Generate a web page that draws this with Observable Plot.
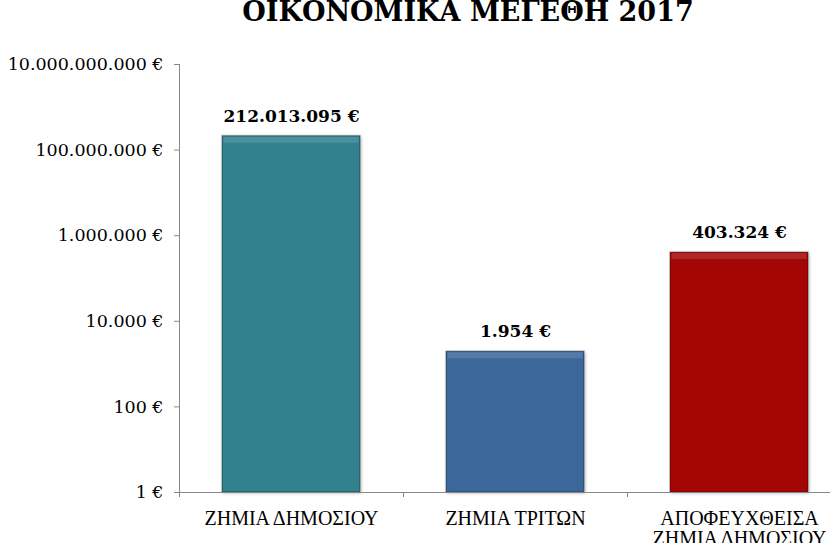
<!DOCTYPE html>
<html>
<head>
<meta charset="utf-8">
<script src="https://cdn.jsdelivr.net/npm/d3@7"></script>
<script src="https://cdn.jsdelivr.net/npm/@observablehq/plot@0.6"></script>
<style>
  html, body { margin: 0; padding: 0; background: #fff; overflow: hidden; }
  #title {
    width: 936px; height: 26px; text-align: center; white-space: nowrap;
    font-family: "DejaVu Serif", serif; font-weight: bold; font-size: 27px;
    line-height: 26px; position: relative; top: -1px; color: #000;
  }
  #chart svg g[aria-label="bar"] rect { filter: drop-shadow(1px 1px 1.5px rgba(0,0,0,0.3)); }
</style>
</head>
<body>
<div id="title">ΟΙΚΟΝΟΜΙΚΑ ΜΕΓΕΘΗ 2017</div>
<div id="chart"></div>
<script>
const categories = ["ΖΗΜΙΑ ΔΗΜΟΣΙΟΥ", "ΖΗΜΙΑ ΤΡΙΤΩΝ", "ΑΠΟΦΕΥΧΘΕΙΣΑ ΖΗΜΙΑ ΔΗΜΟΣΙΟΥ"];
const categoryLabels = ["ΖΗΜΙΑ ΔΗΜΟΣΙΟΥ", "ΖΗΜΙΑ ΤΡΙΤΩΝ", "ΑΠΟΦΕΥΧΘΕΙΣΑ\nΖΗΜΙΑ ΔΗΜΟΣΙΟΥ"];
const values = [212013095, 1954, 403324];
const barColors = ["#31818f", "#3c679a", "#a40606"];
const yTicks = [1, 100, 10000, 1000000, 100000000, 10000000000];

const data = categories.map((c, i) => ({cat: c, value: values[i]}));
const locale = d3.formatLocale({decimal: ",", thousands: ".", grouping: [3], currency: ["", " €"]});
const fmt = v => locale.format(",d")(v) + " €";
const labelOf = Object.fromEntries(categories.map((c, i) => [c, categoryLabels[i]]));

const width = 830, height = 517;
const marginLeft = 179, marginRight = -21, marginTop = 38, marginBottom = 51;
const step = (width - marginLeft - marginRight) / categories.length;

const chart = Plot.plot({
  width, height, marginLeft, marginRight, marginTop, marginBottom,
  style: {background: "transparent", overflow: "visible"},
  x: {domain: categories, paddingInner: 0.384, paddingOuter: 0.192},
  y: {type: "log", domain: [1, 1e10]},
  color: {domain: categories, range: barColors},
  marks: [
    Plot.barY(data, {x: "cat", y1: 1, y2: "value", fill: "cat", stroke: "rgba(0,0,0,0.28)", strokeWidth: 1.5}),
    Plot.tickY(data, {x: "cat", y: "value", dy: 3.5, strokeWidth: 6, stroke: "rgba(255,255,255,0.13)", insetLeft: 1.5, insetRight: 1.5}),
    Plot.ruleY([1], {stroke: "#888", strokeWidth: 1}),
    Plot.frame({anchor: "left", stroke: "#888"}),
    Plot.axisY({ticks: yTicks, tickSize: 5, tickPadding: 11, tickFormat: fmt, stroke: "#888", fill: "#000",
      fontFamily: "DejaVu Serif", fontSize: 17.5, style: "letter-spacing: 0.5px", label: null}),
    Plot.axisX({tickSize: 5, tickFormat: () => "", dx: -step / 2, stroke: "#888", label: null}),
    Plot.axisX({tickSize: 0, tickPadding: 18, tickFormat: d => labelOf[d], fill: "#000",
      fontFamily: "Liberation Serif", fontSize: 20, lineHeight: 1.0, label: null}),
    Plot.text(data, {x: "cat", y: "value", text: d => fmt(d.value), dy: -20,
      fontFamily: "DejaVu Serif", fontWeight: "bold", fontSize: 17, fill: "#000",
      style: "letter-spacing: 0.8px"})
  ]
});
document.getElementById("chart").appendChild(chart);
</script>
</body>
</html>
